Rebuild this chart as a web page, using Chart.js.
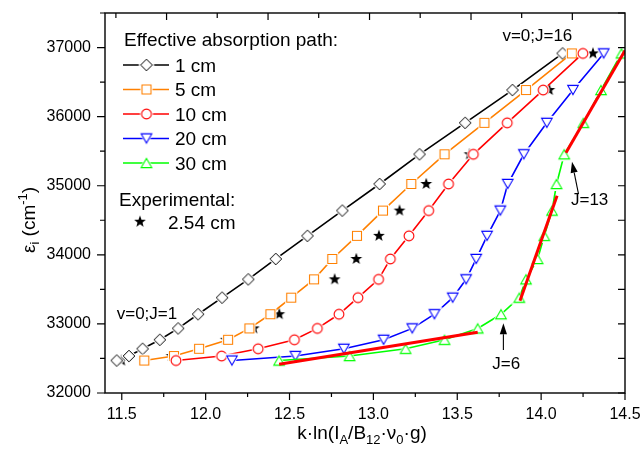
<!DOCTYPE html>
<html>
<head>
<meta charset="utf-8">
<title>Effective absorption path</title>
<script src="https://cdn.jsdelivr.net/npm/chart.js@4.4.1/dist/chart.umd.min.js"></script>
<style>
html,body{margin:0;padding:0;background:#ffffff;}
canvas{display:block;}
</style>
</head>
<body>
<canvas id="chart" width="644" height="452"></canvas>
<script>
// ---------------- data ----------------
// rotational level energies J = 1 ... 16 (cm-1)
const levelsY = [32470, 32535, 32640, 32770, 32935, 33140, 33380, 33645, 33940, 34275, 34640, 35025, 35455, 35910, 36385, 36915];
const x1cm  = [11.470, 11.543, 11.624, 11.727, 11.836, 11.955, 12.098, 12.254, 12.418, 12.607, 12.815, 13.037, 13.275, 13.547, 13.829, 14.128];
const x5cm  = [11.634, 11.811, 11.961, 12.134, 12.261, 12.386, 12.510, 12.646, 12.755, 12.902, 13.057, 13.226, 13.424, 13.662, 13.910, 14.183];
const x10cm = [11.823, 12.095, 12.313, 12.529, 12.666, 12.795, 12.908, 13.031, 13.101, 13.212, 13.330, 13.448, 13.596, 13.798, 14.012, 14.249];
const x20cm = [12.157, 12.535, 12.824, 13.061, 13.232, 13.364, 13.473, 13.553, 13.613, 13.678, 13.757, 13.801, 13.897, 14.034, 14.190, 14.373];
const x30cm = [12.438, 12.858, 13.192, 13.424, 13.622, 13.761, 13.870, 13.910, 13.979, 14.019, 14.065, 14.092, 14.138, 14.252, 14.357, 14.479];
// experimental (2.54 cm)
const expX = [11.499, 11.797, 12.120, 12.287, 12.439, 12.769, 12.898, 13.033, 13.156, 13.315, 13.573, 14.049, 14.309];
const expY = [32470, 32535, 32770, 32935, 33140, 33645, 33940, 34275, 34640, 35025, 35455, 36385, 36915];
// linear fits (red)
const fit1X = [12.438, 13.622], fit1Y = [32415, 32878];
const fit2X = [13.874, 14.095], fit2Y = [33336, 34855];
const fit3X = [14.148, 14.500], fit3Y = [35478, 36958];
// tick labels
const xTickLabels = [11.5, 12.0, 12.5, 13.0, 13.5, 14.0, 14.5];
const yTickLabels = [32000, 33000, 34000, 35000, 36000, 37000];
// top frame ticks, given in x-units
const topAxisTicks = [11.465, 11.767, 12.069, 12.372, 12.674, 12.977, 13.279, 13.582, 13.884, 14.186];

const seriesLabels = ['1 cm', '5 cm', '10 cm', '20 cm', '30 cm'];
const seriesColors = ['#000000', '#ff8000', '#ff0000', '#0000ff', '#00ff00'];

// target plot box inside the 644x452 canvas
const AREA = { left: 105, top: 13, right: 625, bottom: 393 };

// ---------------- styling helpers ----------------
const FONT = '"Liberation Sans", Arial, Helvetica, sans-serif';

function shapePath(g, shape, cx, cy, r) {
  g.beginPath();
  if (shape === 'diamond') {
    g.moveTo(cx, cy - r); g.lineTo(cx + r, cy); g.lineTo(cx, cy + r); g.lineTo(cx - r, cy); g.closePath();
  } else if (shape === 'square') {
    g.rect(cx - r, cy - r, 2 * r, 2 * r);
  } else if (shape === 'circle') {
    g.arc(cx, cy, r, 0, Math.PI * 2);
  } else if (shape === 'triUp' || shape === 'triDown') {
    const h = r * 1.732, s = shape === 'triUp' ? 1 : -1;
    g.moveTo(cx, cy - s * h / 2); g.lineTo(cx + r, cy + s * h / 2); g.lineTo(cx - r, cy + s * h / 2); g.closePath();
  } else if (shape === 'star') {
    for (let k = 0; k < 10; k++) {
      const ang = -Math.PI / 2 + k * Math.PI / 5;
      const rr = k % 2 ? r * 0.42 : r;
      const px = cx + rr * Math.cos(ang), py = cy + rr * Math.sin(ang);
      if (k) g.lineTo(px, py); else g.moveTo(px, py);
    }
    g.closePath();
  }
}

function makeMarker(shape, r, stroke, fill, gap, lw) {
  let size = Math.ceil(2 * (r + gap * 2) + 6);
  if (size % 2) size++;
  const c = document.createElement('canvas');
  c.width = size; c.height = size;
  const g = c.getContext('2d');
  const cc = size / 2;
  if (gap > 0) {
    const k = shape.startsWith('tri') ? 1.8 : (shape === 'diamond' ? 1.4 : 1);
    shapePath(g, shape, cc, cc, r + gap * k);
    g.fillStyle = '#ffffff'; g.fill();
  }
  shapePath(g, shape, cc, cc, r);
  g.fillStyle = fill; g.fill();
  if (stroke) { g.lineWidth = lw; g.strokeStyle = stroke; g.stroke(); }
  return c;
}

const markers = [
  makeMarker('diamond', 5.8, seriesColors[0], '#ffffff', 1.6, 1.0),
  makeMarker('square', 4.5, seriesColors[1], '#ffffff', 1.6, 1.1),
  makeMarker('circle', 4.9, seriesColors[2], '#ffffff', 1.6, 1.1),
  makeMarker('triDown', 5.3, seriesColors[3], '#ffffff', 1.6, 1.1),
  makeMarker('triUp', 5.3, seriesColors[4], '#ffffff', 1.6, 1.1)
];
const starMarker = makeMarker('star', 6.2, null, '#000000', 0, 0);

function pts(xs, ys) { return xs.map((x, i) => ({ x: x, y: ys[i] })); }

const seriesX = [x1cm, x5cm, x10cm, x20cm, x30cm];
const seriesDatasets = seriesX.map((xs, i) => ({
  label: seriesLabels[i],
  data: pts(xs, levelsY),
  showLine: true,
  borderColor: seriesColors[i],
  backgroundColor: seriesColors[i],
  borderWidth: 1.6,
  pointStyle: markers[i],
  pointRadius: 5,
  tension: 0,
  order: 5 - i
}));

const fitStyle = { showLine: true, borderColor: '#ff0000', backgroundColor: '#ff0000', borderWidth: 3, pointRadius: 0, tension: 0, order: 0 };

const datasets = [
  Object.assign({ label: 'fit J1-6', data: pts(fit1X, fit1Y) }, fitStyle),
  Object.assign({ label: 'fit J6-12', data: pts(fit2X, fit2Y) }, fitStyle),
  Object.assign({ label: 'fit J13-16', data: pts(fit3X, fit3Y) }, fitStyle)
].concat(seriesDatasets).concat([{
  label: '2.54 cm',
  data: pts(expX, expY),
  showLine: false,
  pointStyle: starMarker,
  pointRadius: 5,
  order: 9
}]);

// ---------------- rich text helper ----------------
function drawRich(ctx, parts, F, x, y, align) {
  const sizes = parts.map(p => p[1] ? Math.round(F * 0.68) : F);
  const widths = parts.map((p, i) => { ctx.font = sizes[i] + 'px ' + FONT; return ctx.measureText(p[0]).width; });
  const W = widths.reduce((a, b) => a + b, 0);
  let cx = align === 'center' ? x - W / 2 : x;
  parts.forEach((p, i) => {
    ctx.font = sizes[i] + 'px ' + FONT;
    const dy = p[1] === 1 ? F * 0.24 : (p[1] === 2 ? -F * 0.40 : 0);
    ctx.fillText(p[0], cx, y + dy);
    cx += widths[i];
  });
}

// ---------------- plugins ----------------
const framePlugin = {
  id: 'frameTicks',
  afterDatasetsDraw(chart) {
    const { ctx, chartArea: a, scales } = chart;
    const xs = scales.x, ys = scales.y;
    ctx.save();
    ctx.strokeStyle = '#000000';
    ctx.lineWidth = 1.4;
    ctx.strokeRect(a.left, a.top, a.right - a.left, a.bottom - a.top);
    ctx.lineWidth = 1.2;
    ctx.beginPath();
    for (let i = 0; i < xTickLabels.length; i++) {
      const v = xTickLabels[i];
      const px = xs.getPixelForValue(v);
      ctx.moveTo(px, a.bottom); ctx.lineTo(px, a.bottom + 7);
      if (i < xTickLabels.length - 1) {
        const pm = xs.getPixelForValue((v + xTickLabels[i + 1]) / 2);
        ctx.moveTo(pm, a.bottom); ctx.lineTo(pm, a.bottom + 4);
      }
    }
    for (let i = 0; i < yTickLabels.length; i++) {
      const v = yTickLabels[i];
      const py = ys.getPixelForValue(v);
      ctx.moveTo(a.left, py); ctx.lineTo(a.left - 8, py);
      ctx.moveTo(a.right, py); ctx.lineTo(a.right - 7, py);
      const pm = ys.getPixelForValue(v + 500);
      ctx.moveTo(a.left, pm); ctx.lineTo(a.left - 5, pm);
      ctx.moveTo(a.right, pm); ctx.lineTo(a.right - 7, pm);
    }
    topAxisTicks.forEach((v, i) => {
      const px = xs.getPixelForValue(v);
      const len = i % 2 ? 7 : 5;
      ctx.moveTo(px, a.top); ctx.lineTo(px, a.top + len);
    });
    ctx.stroke();
    ctx.restore();
  },
  afterDraw(chart) {
    const { ctx, chartArea: a, scales } = chart;
    const xs = scales.x, ys = scales.y;
    ctx.save();
    ctx.fillStyle = '#000000';
    ctx.textBaseline = 'alphabetic';
    ctx.textAlign = 'left';

    // ----- legend -----
    ctx.font = '19px ' + FONT;
    ctx.fillText('Effective absorption path:', 124, 46);
    seriesLabels.forEach((lab, i) => {
      const cy = 65 + 24.5 * i;
      ctx.strokeStyle = seriesColors[i];
      ctx.lineWidth = 1.6;
      ctx.beginPath(); ctx.moveTo(123, cy); ctx.lineTo(169, cy); ctx.stroke();
      const m = markers[i];
      ctx.drawImage(m, 146.5 - m.width / 2, cy - m.height / 2);
      ctx.font = '19px ' + FONT;
      ctx.fillText(lab, 175, cy + 6.8);
    });
    ctx.fillText('Experimental:', 119, 205.6);
    ctx.drawImage(starMarker, 140 - starMarker.width / 2, 221.7 - starMarker.height / 2);
    ctx.fillText('2.54 cm', 168, 228.5);

    // ----- annotations (data coordinates) -----
    ctx.font = '17px ' + FONT;
    ctx.fillText('v=0;J=1', xs.getPixelForValue(11.470), ys.getPixelForValue(33158) + 6.1);
    ctx.fillText('v=0;J=16', xs.getPixelForValue(13.769), ys.getPixelForValue(37181) + 6.1);
    ctx.fillText('J=13', xs.getPixelForValue(14.178), ys.getPixelForValue(34808) + 6.1);
    ctx.textAlign = 'center';
    ctx.fillText('J=6', xs.getPixelForValue(13.792), ys.getPixelForValue(32438) + 6.1);
    ctx.textAlign = 'left';

    function arrow(x0, y0, x1, y1) {
      const p0x = xs.getPixelForValue(x0), p0y = ys.getPixelForValue(y0);
      const p1x = xs.getPixelForValue(x1), p1y = ys.getPixelForValue(y1);
      const ang = Math.atan2(p1y - p0y, p1x - p0x);
      const hl = 11, hw = 3.6;
      const bx = p1x - hl * Math.cos(ang), by = p1y - hl * Math.sin(ang);
      ctx.strokeStyle = '#000000'; ctx.lineWidth = 1.1;
      ctx.beginPath(); ctx.moveTo(p0x, p0y); ctx.lineTo(bx, by); ctx.stroke();
      ctx.beginPath();
      ctx.moveTo(p1x, p1y);
      ctx.lineTo(bx + hw * Math.sin(ang), by - hw * Math.cos(ang));
      ctx.lineTo(bx - hw * Math.sin(ang), by + hw * Math.cos(ang));
      ctx.closePath(); ctx.fill();
    }
    arrow(13.775, 32622, 13.775, 33009);
    arrow(14.223, 34880, 14.184, 35347);

    // ----- axis titles -----
    drawRich(ctx, [['k·ln(I', 0], ['A', 1], ['/B', 0], ['12', 1], ['·ν', 0], ['0', 1], ['·g)', 0]], 19, (a.left + a.right) / 2 - 3, 439, 'center');
    ctx.save();
    ctx.translate(28 + 6.8, 220);
    ctx.rotate(-Math.PI / 2);
    drawRich(ctx, [['ε', 0], ['i', 1], [' (cm', 0], ['-1', 2], [')', 0]], 19, 0, 0, 'center');
    ctx.restore();

    ctx.restore();
  }
};

// ---------------- chart ----------------
const chart = new Chart(document.getElementById('chart'), {
  type: 'scatter',
  data: { datasets: datasets },
  options: {
    responsive: false,
    animation: false,
    devicePixelRatio: 1,
    events: [],
    layout: { padding: { left: 0, right: 19, top: 13, bottom: 0 } },
    plugins: { legend: { display: false }, tooltip: { enabled: false } },
    scales: {
      x: {
        type: 'linear', position: 'bottom', min: 11.4, max: 14.5,
        afterBuildTicks: s => { s.ticks = xTickLabels.map(v => ({ value: v })); },
        afterFit: s => { s.height = 59; s.paddingLeft = 0; s.paddingRight = 0; },
        grid: { display: false, drawTicks: false },
        border: { display: false },
        ticks: { color: '#000000', padding: 12, maxRotation: 0, autoSkip: false,
                 font: { family: FONT, size: 16 }, callback: v => Number(v).toFixed(1) },
        title: { display: false }
      },
      y: {
        type: 'linear', position: 'left', min: 32000, max: 37500,
        afterBuildTicks: s => { s.ticks = yTickLabels.map(v => ({ value: v })); },
        afterFit: s => { s.width = 105; s.paddingTop = 0; s.paddingBottom = 0; },
        grid: { display: false, drawTicks: false },
        border: { display: false },
        ticks: { color: '#000000', padding: 14, autoSkip: false,
                 font: { family: FONT, size: 16 }, callback: v => String(v) },
        title: { display: false }
      }
    }
  },
  plugins: [framePlugin]
});

// nudge the layout padding so the plot box lands on AREA
for (let k = 0; k < 3; k++) {
  const a = chart.chartArea, p = chart.options.layout.padding;
  const dT = AREA.top - a.top, dR = a.right - AREA.right, dB = a.bottom - AREA.bottom, dL = AREA.left - a.left;
  if (Math.abs(dT) < 0.3 && Math.abs(dR) < 0.3 && Math.abs(dB) < 0.3 && Math.abs(dL) < 0.3) break;
  chart.options.layout.padding = { top: p.top + dT, right: p.right - dR, bottom: p.bottom + dB, left: p.left + dL };
  chart.update('none');
}
</script>
</body>
</html>
